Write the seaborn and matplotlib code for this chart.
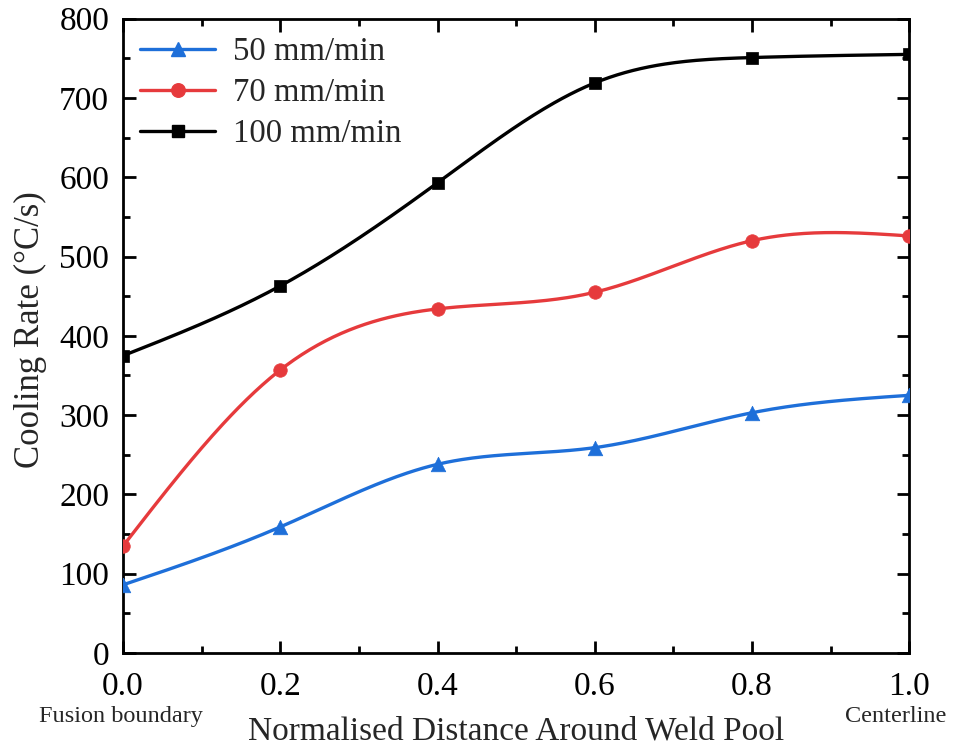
import numpy as np
import pandas as pd
import seaborn as sns
import matplotlib
matplotlib.use("Agg")
import matplotlib.pyplot as plt
from matplotlib.ticker import MultipleLocator, FormatStrFormatter

# Normalised position between fusion boundary (0) and weld centerline (1)
distance = [0.0, 0.2, 0.4, 0.6, 0.8, 1.0]
speed_labels = ["50 mm/min", "70 mm/min", "100 mm/min"]
rate_50 = [86, 159, 238, 259, 303, 325]
rate_70 = [135, 357, 434, 455, 520, 526]
rate_100 = [375, 463, 593, 719, 751, 755]

colors = ["#1e6fd9", "#e63a3c", "#000000"]
markers = ["^", "o", "s"]
marker_area = [110, 95, 80]


def natural_spline(x, y, n=300):
    """Natural cubic spline through (x, y) for a smooth connecting line."""
    x = np.asarray(x, float)
    y = np.asarray(y, float)
    k = len(x)
    h = np.diff(x)
    A = np.zeros((k, k))
    b = np.zeros(k)
    A[0, 0] = A[-1, -1] = 1.0
    for i in range(1, k - 1):
        A[i, i - 1] = h[i - 1]
        A[i, i] = 2 * (h[i - 1] + h[i])
        A[i, i + 1] = h[i]
        b[i] = 6 * ((y[i + 1] - y[i]) / h[i] - (y[i] - y[i - 1]) / h[i - 1])
    M = np.linalg.solve(A, b)
    xs = np.linspace(x[0], x[-1], n)
    idx = np.clip(np.searchsorted(x, xs) - 1, 0, k - 2)
    x0, x1 = x[idx], x[idx + 1]
    hh = x1 - x0
    ys = (M[idx] * (x1 - xs) ** 3 / (6 * hh) + M[idx + 1] * (xs - x0) ** 3 / (6 * hh)
          + (y[idx] / hh - M[idx] * hh / 6) * (x1 - xs)
          + (y[idx + 1] / hh - M[idx + 1] * hh / 6) * (xs - x0))
    return xs, ys


sns.set_theme(style="ticks")
plt.rcParams["font.family"] = ["Liberation Serif", "DejaVu Serif"]

fig, ax = plt.subplots(figsize=(9.54, 7.48), dpi=100)
fig.subplots_adjust(left=0.129, right=0.953, top=0.975, bottom=0.127)

for series, label, c, m, s in zip([rate_50, rate_70, rate_100], speed_labels,
                                  colors, markers, marker_area):
    xs, ys = natural_spline(distance, series)
    smooth = pd.DataFrame({"x": xs, "y": ys})
    pts = pd.DataFrame({"x": distance, "y": series})
    sns.lineplot(data=smooth, x="x", y="y", ax=ax, color=c, lw=2.4, zorder=2)
    sns.scatterplot(data=pts, x="x", y="y", ax=ax, color=c, marker=m, s=s,
                    edgecolor=c, linewidth=0.5, zorder=3)
    ax.plot([], [], color=c, lw=2.4, marker=m, ms=np.sqrt(s), label=label)

ax.set_xlim(0, 1.0)
ax.set_ylim(0, 800)
ax.xaxis.set_major_locator(MultipleLocator(0.2))
ax.xaxis.set_minor_locator(MultipleLocator(0.1))
ax.yaxis.set_major_locator(MultipleLocator(100))
ax.yaxis.set_minor_locator(MultipleLocator(50))
ax.xaxis.set_major_formatter(FormatStrFormatter("%.1f"))

ax.tick_params(which="both", direction="in", top=True, right=True, width=2, colors="black")
ax.tick_params(which="major", length=9, labelsize=24)
ax.tick_params(axis="x", which="major", pad=13)
ax.tick_params(axis="y", which="major", pad=10)
ax.tick_params(which="minor", length=5)
for sp in ax.spines.values():
    sp.set_linewidth(2)
    sp.set_color("black")

ax.set_xlabel("")
ax.set_ylabel("Cooling Rate (\u00b0C/s)", fontsize=25)
ax.yaxis.set_label_coords(-0.097, 0.51)
ax.text(0.5, -0.137, "Normalised Distance Around Weld Pool", transform=ax.transAxes,
        fontsize=24, ha="center", va="baseline")

ax.text(-0.003, -0.083, "Fusion boundary", transform=ax.transAxes, fontsize=17.5,
        ha="center", va="top")
ax.text(1.047, -0.083, "Centerline", transform=ax.transAxes, fontsize=17.5,
        ha="right", va="top")

ax.legend(loc="upper left", bbox_to_anchor=(0.005, 0.992), frameon=False, fontsize=23.6,
          handlelength=2.3, borderaxespad=0.0, borderpad=0.4, labelspacing=0.32,
          handletextpad=0.52)

fig.savefig("out.png", dpi=100)
